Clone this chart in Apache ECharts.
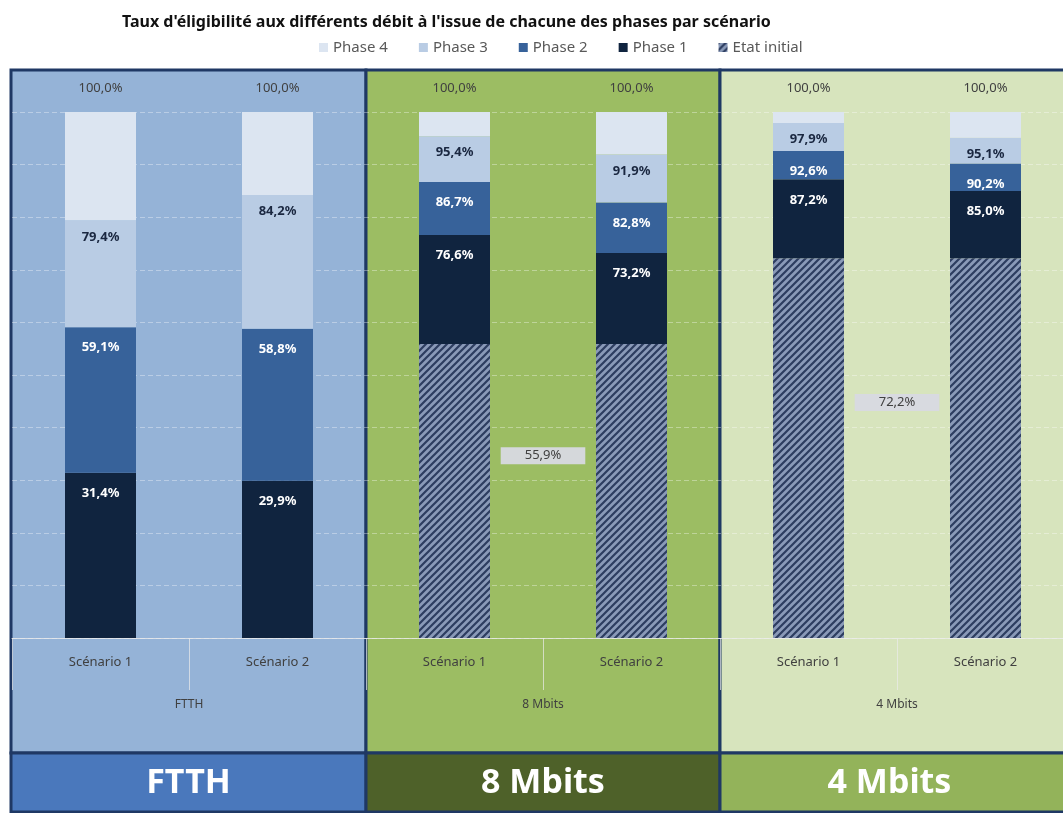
<!DOCTYPE html>
<html>
<head>
<meta charset="utf-8">
<script src="https://cdn.jsdelivr.net/npm/echarts@6/dist/echarts.min.js"></script>
<style>
  html, body { margin: 0; padding: 0; overflow: hidden; background: #fff; }
  #chart { width: 1080px; height: 813px; }
</style>
</head>
<body>
<div id="chart"></div>
<script>
// categories
const groups = ['FTTH', '8 Mbits', '4 Mbits'];
const scenarios = ['Scénario 1', 'Scénario 2'];
const categories = ['FTTH|Scénario 1', 'FTTH|Scénario 2', '8 Mbits|Scénario 1', '8 Mbits|Scénario 2', '4 Mbits|Scénario 1', '4 Mbits|Scénario 2'];

// cumulative rates (%) after each phase, per category
const etatInitial = [0, 0, 55.9, 55.9, 72.2, 72.2];
const phase1 = [31.4, 29.9, 76.6, 73.2, 87.2, 85.0];
const phase2 = [59.1, 58.8, 86.7, 82.8, 92.6, 90.2];
const phase3 = [79.4, 84.2, 95.4, 91.9, 97.9, 95.1];
const phase4 = [100, 100, 100, 100, 100, 100];

const legendOrder = ['Phase 4', 'Phase 3', 'Phase 2', 'Phase 1', 'Etat initial'];

// layout
const gridLeft = 12, catW = 177, plotTop = 112, plotBottom = 638;
const panelTop = 70, bandTop = 753, bandBottom = 812;
const panelColors = ['#95b3d7', '#9cbd63', '#d7e4bd'];
const bandColors = ['#4a78bc', '#4e6129', '#93b35a'];
const borderColor = '#1f3864';
const font = "'Noto Sans', 'Liberation Sans', sans-serif";

function pct(v) {
  return v.toFixed(1).replace('.', ',') + '%';
}

// hatch pattern for the initial state
function hatch() {
  var c = document.createElement('canvas');
  c.width = 7; c.height = 7;
  var ctx = c.getContext('2d');
  ctx.fillStyle = '#8a9ab8';
  ctx.fillRect(0, 0, 7, 7);
  ctx.strokeStyle = '#2d3d60';
  ctx.lineWidth = 2.2;
  ctx.beginPath();
  ctx.moveTo(0, 7); ctx.lineTo(7, 0);
  ctx.moveTo(-1, 1); ctx.lineTo(1, -1);
  ctx.moveTo(6, 8); ctx.lineTo(8, 6);
  ctx.stroke();
  return { image: c, repeat: 'repeat' };
}

function segments(cur, prev) {
  return cur.map(function (v, i) {
    return Math.round((v - (prev ? prev[i] : 0)) * 10) / 10;
  });
}

function barSeries(name, cur, prev, color, label) {
  return {
    name: name,
    type: 'bar',
    stack: 'total',
    barWidth: 71,
    itemStyle: { color: color },
    label: Object.assign({
      show: true,
      fontFamily: font,
      fontSize: 13,
      formatter: function (p) { return pct(cur[p.dataIndex]); }
    }, label),
    data: segments(cur, prev)
  };
}

var initialData = segments(etatInitial, null).map(function (v, i) {
  var item = { value: v };
  if (i % 2 === 0 && v > 0) {
    item.label = {
      show: true,
      position: ['100%', '38%'],
      offset: [(catW - 71) / 2, 0],
      align: 'center',
      verticalAlign: 'middle',
      color: '#404040',
      fontFamily: font,
      fontSize: 13,
      backgroundColor: 'rgba(216,217,226,0.95)',
      padding: [2, 24],
      formatter: pct(etatInitial[i])
    };
  }
  return item;
});

var graphics = [];
groups.forEach(function (g, i) {
  var x0 = (i === 0 ? 11 : gridLeft + 2 * catW * i);
  var x1 = gridLeft + 2 * catW * (i + 1);
  graphics.push({
    type: 'rect', z: -10,
    shape: { x: x0, y: panelTop, width: x1 - x0, height: bandTop - panelTop },
    style: { fill: panelColors[i], stroke: borderColor, lineWidth: 3 }
  });
  graphics.push({
    type: 'rect', z: -10,
    shape: { x: x0, y: bandTop, width: x1 - x0, height: bandBottom - bandTop },
    style: { fill: bandColors[i], stroke: borderColor, lineWidth: 3 }
  });
  graphics.push({
    type: 'text', z: 10,
    x: (x0 + Math.min(x1, 1063)) / 2 + (i === 2 ? -2 : 0), y: (bandTop + bandBottom) / 2 + 1,
    style: {
      text: g, fill: '#ffffff', font: 'bold 34px ' + font,
      textAlign: 'center', textVerticalAlign: 'middle'
    }
  });
});

var chart = echarts.init(document.getElementById('chart'));
var option = {
  animation: false,
  backgroundColor: '#ffffff',
  title: {
    text: "Taux d'éligibilité aux différents débit à l'issue de chacune des phases par scénario",
    left: 117,
    top: 9,
    textStyle: { fontFamily: font, fontSize: 16, fontWeight: 'bold', color: '#111111' }
  },
  legend: {
    data: legendOrder,
    left: 314,
    top: 35,
    itemWidth: 9,
    itemHeight: 9,
    itemGap: 31,
    icon: 'rect',
    textStyle: { fontFamily: font, fontSize: 15, color: '#595959' }
  },
  grid: { left: gridLeft, right: 1080 - gridLeft - 6 * catW, top: plotTop, bottom: 813 - plotBottom },
  xAxis: [
    {
      type: 'category',
      data: categories,
      axisLine: { lineStyle: { color: 'rgba(235,235,235,0.8)', width: 1 } },
      axisTick: { show: true, length: 52, lineStyle: { color: 'rgba(235,235,235,0.7)' } },
      axisLabel: {
        margin: 18,
        color: '#404040',
        fontFamily: font,
        fontSize: 13,
        formatter: function (v) { return v.split('|')[1]; }
      },
      splitLine: { show: false }
    },
    {
      type: 'category',
      position: 'bottom',
      offset: 46,
      data: groups,
      axisLine: { show: false },
      axisTick: { show: false },
      axisLabel: { margin: 15, color: '#404040', fontFamily: font, fontSize: 12 }
    }
  ],
  yAxis: {
    type: 'value',
    min: 0,
    max: 100,
    interval: 10,
    axisLabel: { show: false },
    axisLine: { show: false },
    axisTick: { show: false },
    splitLine: { lineStyle: { color: 'rgba(255,255,255,0.35)', type: [5, 3] } }
  },
  graphic: graphics,
  series: [
    {
      name: 'Etat initial',
      type: 'bar',
      stack: 'total',
      barWidth: 71,
      itemStyle: { color: hatch() },
      label: { show: false },
      data: initialData
    },
    barSeries('Phase 1', phase1, etatInitial, '#10243f', { position: 'insideTop', distance: 14, color: '#ffffff', fontWeight: 'bold' }),
    barSeries('Phase 2', phase2, phase1, '#37629a', { position: 'insideTop', distance: 14, color: '#ffffff', fontWeight: 'bold' }),
    barSeries('Phase 3', phase3, phase2, '#b9cce4', { position: 'insideTop', distance: 10, color: '#1a2740', fontWeight: 'bold' }),
    barSeries('Phase 4', phase4, phase3, '#dce5f1', { position: 'top', distance: 17, color: '#404040' })
  ]
};
chart.setOption(option);
</script>
</body>
</html>
